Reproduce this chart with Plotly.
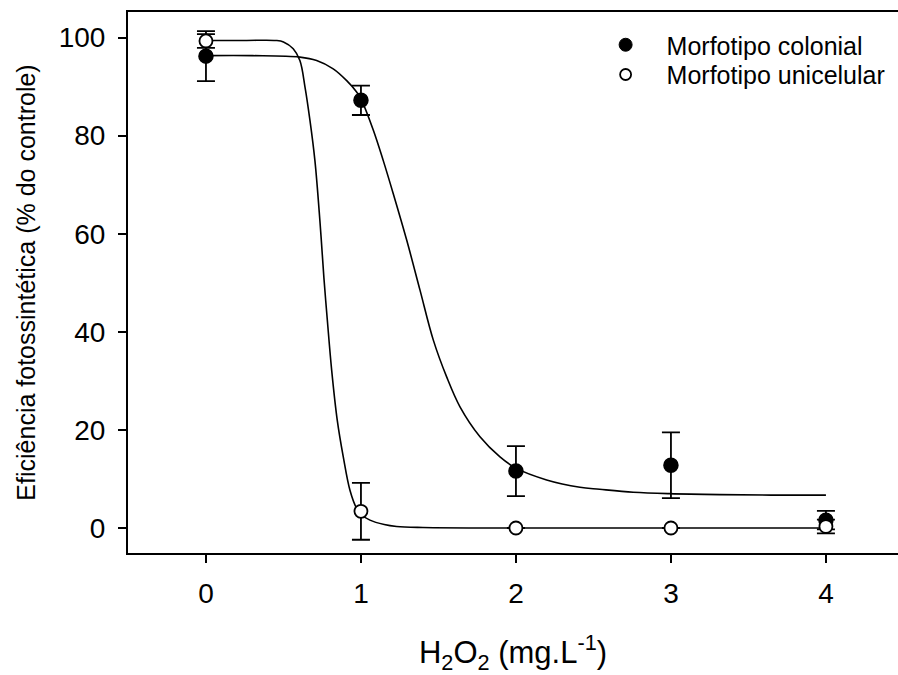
import plotly.graph_objects as go

# ---- data ----
doses = [0, 1, 2, 3, 4]
colonial_mean = [96.2, 87.2, 11.6, 12.8, 1.6]
colonial_err = [5.1, 3.0, 5.1, 6.7, 1.9]
unicel_mean = [99.3, 3.4, 0.0, 0.0, 0.3]
unicel_err = [1.4, 5.8, 0.0, 0.0, 1.4]

# fitted sigmoid curves
colonial_fit_x = [0, 0.30, 0.606, 0.714, 0.821, 0.908, 0.972, 1.0, 1.08, 1.144, 1.208, 1.295,
                  1.381, 1.467, 1.553, 1.639, 1.768, 1.897, 2.0, 2.198, 2.413, 2.54, 2.757,
                  2.99, 3.316, 3.65, 4.0]
colonial_fit_y = [96.3, 96.3, 96.0, 95.3, 93.6, 91.2, 88.9, 87.5, 81.1, 74.9, 68.2, 58.7,
                  48.5, 38.3, 30.8, 24.7, 18.6, 14.5, 12.2, 9.8, 8.3, 7.9, 7.3,
                  7.0, 6.8, 6.7, 6.7]
unicel_fit_x = [0, 0.25, 0.45, 0.50, 0.563, 0.606, 0.639, 0.671, 0.703, 0.735, 0.761, 0.783,
                0.811, 0.847, 0.886, 0.929, 0.972, 1.0, 1.058, 1.15, 1.23, 1.4, 2.0, 3.0, 4.0]
unicel_fit_y = [99.4, 99.4, 99.4, 99.1, 97.7, 95.3, 89.9, 83.1, 74.9, 62.7, 51.0, 42.4,
                32.2, 22.0, 14.5, 7.7, 4.0, 2.8, 1.6, 0.7, 0.3, 0.1, 0.0, 0.0, 0.0]

x_ticks = [0, 1, 2, 3, 4]
y_ticks = [0, 20, 40, 60, 80, 100]

FONT = "Arial, 'Liberation Sans', sans-serif"

fig = go.Figure()

# curves
fig.add_trace(go.Scatter(x=colonial_fit_x, y=colonial_fit_y, mode="lines", line_shape="spline",
                         line=dict(color="black", width=1.6), showlegend=False, hoverinfo="skip"))
fig.add_trace(go.Scatter(x=unicel_fit_x, y=unicel_fit_y, mode="lines", line_shape="spline",
                         line=dict(color="black", width=1.6), showlegend=False, hoverinfo="skip"))

# data points
fig.add_trace(go.Scatter(x=doses, y=colonial_mean, mode="markers", showlegend=False,
                         marker=dict(symbol="circle", size=14, color="black",
                                     line=dict(color="black", width=1.5)),
                         error_y=dict(type="data", array=colonial_err, visible=True,
                                      color="black", thickness=1.8, width=9)))
fig.add_trace(go.Scatter(x=doses, y=unicel_mean, mode="markers", showlegend=False,
                         marker=dict(symbol="circle", size=13, color="white",
                                     line=dict(color="black", width=1.8)),
                         error_y=dict(type="data", array=unicel_err, visible=True,
                                      color="black", thickness=1.8, width=9)))

# legend entries (one legend box per entry for exact spacing)
fig.add_trace(go.Scatter(x=[None], y=[None], mode="markers", name="Morfotipo colonial",
                         legend="legend",
                         marker=dict(symbol="circle", size=13, color="black",
                                     line=dict(color="black", width=1))))
fig.add_trace(go.Scatter(x=[None], y=[None], mode="markers", name="Morfotipo unicelular",
                         legend="legend2",
                         marker=dict(symbol="circle", size=11, color="white",
                                     line=dict(color="black", width=1.8))))

legend_common = dict(xanchor="left", yanchor="middle", bgcolor="rgba(0,0,0,0)",
                     font=dict(size=25, family=FONT), itemwidth=72)

fig.update_layout(
    width=898, height=675,
    margin=dict(l=128, r=0, t=12, b=122),
    paper_bgcolor="white", plot_bgcolor="white",
    font=dict(family=FONT, color="black", size=25),
    legend=dict(x=0.593, y=0.939, **legend_common),
    legend2=dict(x=0.593, y=0.884, **legend_common),
    xaxis=dict(range=[-0.503, 4.465], tickvals=x_ticks, ticktext=[str(v) for v in x_ticks],
               showgrid=False, zeroline=False, showline=True, linecolor="black", linewidth=2,
               mirror=True, ticks="outside", ticklen=8, tickwidth=2, tickcolor="black",
               tickfont=dict(size=28), ticklabelstandoff=6,
               title=dict(text="H<sub>2</sub>O<sub>2</sub> (mg.L<sup>-1</sup>)",
                          font=dict(size=31), standoff=36)),
    yaxis=dict(range=[-5.1, 105.2], tickvals=y_ticks, ticktext=[str(v) for v in y_ticks],
               showgrid=False, zeroline=False, showline=True, linecolor="black", linewidth=2,
               mirror=False, ticks="outside", ticklen=8, tickwidth=2, tickcolor="black",
               tickfont=dict(size=28), ticklabelstandoff=7,
               title=dict(text="Eficiência fotossintética (% do controle)",
                          font=dict(size=25), standoff=16)),
)

fig.write_html("out.html")
